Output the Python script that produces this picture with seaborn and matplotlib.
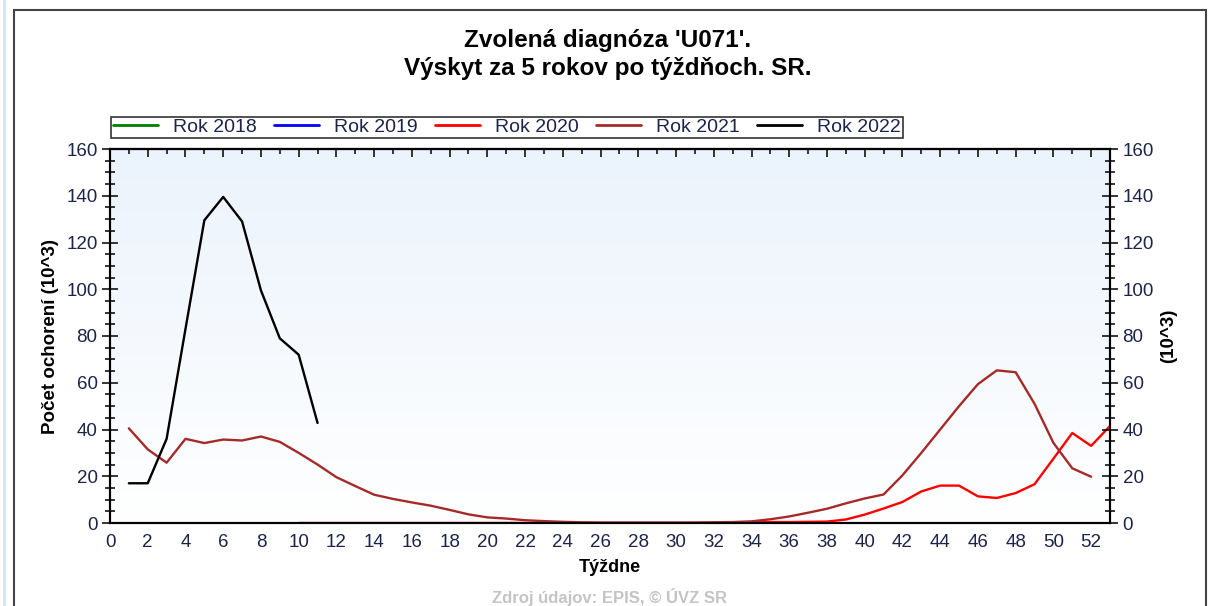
import numpy as np
import pandas as pd
import matplotlib
matplotlib.use("Agg")
import matplotlib.pyplot as plt
import seaborn as sns
from matplotlib.lines import Line2D
from matplotlib.patches import Rectangle
from matplotlib.ticker import MultipleLocator, NullFormatter

# Data (thousands of cases per week)
years = ["Rok 2018", "Rok 2019", "Rok 2020", "Rok 2021", "Rok 2022"]
colors = ["#008000", "#0000FF", "#FF0000", "#A52A2A", "#000000"]

weeks_2020 = list(range(10, 54))
cases_2020 = [0.0] * 22 + [0.1, 0.2, 0.3, 0.4, 0.4, 0.5,
                           0.6, 1.5, 3.6, 6.2, 9.0, 13.5, 16.0, 16.0,
                           11.4, 10.7, 12.8, 16.6, 27.5, 38.5, 33.0, 41.5]

weeks_2021 = list(range(1, 53))
cases_2021 = [40.5, 31.5, 25.8, 36.0, 34.2, 35.7, 35.3, 37.0, 34.7, 30.0,
              25.0, 19.6, 15.8, 12.1, 10.3, 8.8, 7.4, 5.6, 3.7, 2.4,
              1.9, 1.2, 0.8, 0.5, 0.3, 0.2, 0.2, 0.2, 0.2, 0.2,
              0.2, 0.3, 0.4, 0.7, 1.6, 2.8, 4.4, 6.1, 8.4, 10.5,
              12.2, 20.4, 30.0, 40.0, 50.0, 59.4, 65.3, 64.5, 51.0, 34.3,
              23.4, 19.8]

weeks_2022 = list(range(1, 12))
cases_2022 = [17.0, 17.0, 36.0, 83.0, 129.5, 139.5, 129.0, 99.5, 79.0, 72.0, 42.8]

df = pd.concat([
    pd.DataFrame({"week": weeks_2020, "cases": cases_2020, "rok": "Rok 2020"}),
    pd.DataFrame({"week": weeks_2021, "cases": cases_2021, "rok": "Rok 2021"}),
    pd.DataFrame({"week": weeks_2022, "cases": cases_2022, "rok": "Rok 2022"}),
])

sns.set_theme(style="white")
plt.rcParams["font.family"] = ["Liberation Sans", "DejaVu Sans"]
txt_color = "#1c2448"

fig = plt.figure(figsize=(12.09, 6.06), dpi=100)
W, H = 1209, 606
ax = fig.add_axes([110 / W, 1 - 523 / H, 1000 / W, 374 / H])

# light blue gradient background (blue at top, white at bottom)
grad = np.linspace(0, 1, 256).reshape(-1, 1)
cmap = matplotlib.colors.LinearSegmentedColormap.from_list("bg", ["#EBF3FC", "#FFFFFF"])
ax.imshow(grad, aspect="auto", cmap=cmap, extent=[0, 53, 0, 160], origin="upper", zorder=0)

sns.lineplot(data=df, x="week", y="cases", hue="rok", hue_order=years,
             palette=dict(zip(years, colors)), linewidth=1.7, legend=False,
             ax=ax, zorder=3)

ax.set_xlim(0, 53)
ax.set_ylim(0, 160)
ax.xaxis.set_major_locator(MultipleLocator(2))
ax.xaxis.set_minor_locator(MultipleLocator(1))
ax.yaxis.set_major_locator(MultipleLocator(20))
ax.yaxis.set_minor_locator(MultipleLocator(5))
for s in ax.spines.values():
    s.set_linewidth(1.5)
    s.set_color("black")

ax.tick_params(axis="both", which="both", colors="black", labelcolor=txt_color,
               labelsize=13.5, width=1.1)
ax.tick_params(axis="x", which="major", direction="inout", length=12, pad=2)
ax.tick_params(axis="x", which="minor", direction="inout", length=7)
ax.tick_params(axis="y", which="major", direction="inout", length=12, pad=3)
ax.tick_params(axis="y", which="minor", direction="inout", length=7)

# top axis: inward ticks only
top = ax.secondary_xaxis("top")
top.xaxis.set_major_locator(MultipleLocator(2))
top.xaxis.set_minor_locator(MultipleLocator(1))
top.xaxis.set_major_formatter(NullFormatter())
top.tick_params(axis="x", which="major", direction="in", length=6, width=1.1, colors="black")
top.tick_params(axis="x", which="minor", direction="in", length=3.5, width=1.1, colors="black")
top.spines["top"].set_linewidth(1.5)

ax2 = ax.twinx()
ax2.set_ylim(0, 160)
ax2.yaxis.set_major_locator(MultipleLocator(20))
ax2.yaxis.set_minor_locator(MultipleLocator(5))
ax2.tick_params(axis="y", which="both", colors="black", labelcolor=txt_color,
                labelsize=13.5, width=1.1, direction="inout")
ax2.tick_params(axis="y", which="major", length=12, pad=3)
ax2.tick_params(axis="y", which="minor", length=7)
for s in ax2.spines.values():
    s.set_linewidth(1.5)
    s.set_color("black")
ax2.grid(False)
ax.grid(False)

ax.set_xlabel("Týždne", fontsize=13, fontweight="bold", color="black")
ax.xaxis.set_label_coords(0.5, -0.096)
ax.set_ylabel("Počet ochorení (10^3)", fontsize=13.5, fontweight="bold", color="black")
ax.yaxis.set_label_coords(-0.051, 0.5)
ax2.set_ylabel("(10^3)", fontsize=13.5, fontweight="bold", color="black")
ax2.yaxis.set_label_coords(1.05, 0.5)

# title
fig.text(608 / W, 1 - 40 / H, "Zvolená diagnóza 'U071'.", ha="center", va="center",
         fontsize=17.5, fontweight="bold", color="black")
fig.text(608 / W, 1 - 68 / H, "Výskyt za 5 rokov po týždňoch. SR.", ha="center",
         va="center", fontsize=17.5, fontweight="bold", color="black")

# legend
handles = [Line2D([], [], color=c, linewidth=2) for c in colors]
leg = fig.legend(handles, years, loc="lower left", ncol=5, mode="expand",
                 bbox_to_anchor=(111 / W, 1 - 138 / H, 792 / W, 25 / H),
                 frameon=True, fancybox=False, fontsize=14, handlelength=2.3,
                 borderaxespad=0, borderpad=0.1, handletextpad=0.8,
                 labelcolor=txt_color)
leg.get_frame().set_edgecolor("black")
leg.get_frame().set_linewidth(1.2)

# footer
fig.text(610 / W, 1 - 597 / H, "Zdroj údajov: EPIS, © ÚVZ SR", ha="center",
         va="center", fontsize=12, fontweight="bold", color="#c4c4c4")

# outer frame
fig.add_artist(Rectangle((14 / W, -0.01), 1192 / W, 1 - 10 / H + 0.01,
                         transform=fig.transFigure, fill=False,
                         edgecolor="#444444", linewidth=1.5))
fig.add_artist(Rectangle((3 / W, 0), 3 / W, 1, transform=fig.transFigure,
                         facecolor="#dce4ed", edgecolor="none"))

fig.savefig("out.png", dpi=100)
